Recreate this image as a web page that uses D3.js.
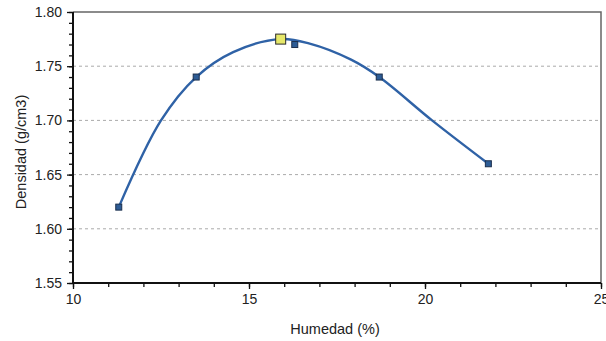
<!DOCTYPE html>
<html>
<head>
<meta charset="utf-8">
<script src="https://cdn.jsdelivr.net/npm/d3@7"></script>
<style>
  html, body { margin: 0; padding: 0; background: #fff; }
  svg { display: block; font-family: "Liberation Sans", Arial, sans-serif; }
</style>
</head>
<body>
<svg id="chart" width="606" height="341"></svg>
<script>
// Ensayo Proctor: humedad (%) vs densidad seca (g/cm3)
const humedad = [11.3, 13.5, 16.3, 18.7, 21.8];
const densidad = [1.62, 1.74, 1.77, 1.74, 1.66];

// Curva de compactación ajustada
const curvaHumedad = [11.3, 12.5, 13.5, 14.55, 15.9, 16.7, 17.9, 18.7, 20.2, 21.8];
const curvaDensidad = [1.62, 1.70, 1.74, 1.763, 1.775, 1.771, 1.756, 1.74, 1.70, 1.66];

// Óptimo: humedad óptima y densidad máxima
const optimoHumedad = [15.9];
const optimoDensidad = [1.775];

const xTicks = [10, 15, 20, 25];
const yTicks = [1.55, 1.60, 1.65, 1.70, 1.75, 1.80];
const yGrid = [1.60, 1.65, 1.70, 1.75];

const svg = d3.select("#chart");
const m = { left: 73, right: 5, top: 12, bottom: 58 };
const W = 606, H = 341;

const x = d3.scaleLinear().domain([10, 25]).range([m.left, W - m.right]);
const y = d3.scaleLinear().domain([1.55, 1.80]).range([H - m.bottom, m.top]);

const textColor = "#222";
const font = "Liberation Sans, Arial, sans-serif";

// Líneas de cuadrícula discontinuas
svg.append("g").selectAll("line").data(yGrid).join("line")
  .attr("x1", x(10)).attr("x2", x(25))
  .attr("y1", d => y(d)).attr("y2", d => y(d))
  .attr("stroke", "#aaa").attr("stroke-width", 1)
  .attr("stroke-dasharray", "3,3");

// Marco superior y derecho
svg.append("path")
  .attr("d", `M${x(10)},${y(1.80)}H${x(25)}V${y(1.55)}`)
  .attr("fill", "none").attr("stroke", "#666").attr("stroke-width", 1.5);

// Ejes: marcas menores y mayores
const xMinor = d3.range(10, 25.01, 1);
const yMinor = d3.range(0, 26).map(i => 1.55 + i * 0.01);

const gx = svg.append("g").attr("transform", `translate(0,${y(1.55)})`);
gx.call(d3.axisBottom(x).tickValues(xMinor).tickSize(4).tickFormat(""));
gx.call(g => g.select(".domain").remove());
const gxMajor = svg.append("g").attr("transform", `translate(0,${y(1.55)})`)
  .call(d3.axisBottom(x).tickValues(xTicks).tickSize(6).tickPadding(5).tickFormat(d3.format("d")));
gxMajor.select(".domain").remove();
gxMajor.selectAll("text").attr("font-size", 14).attr("fill", textColor).attr("font-family", font);

const gy = svg.append("g").attr("transform", `translate(${x(10)},0)`);
gy.call(d3.axisLeft(y).tickValues(yMinor).tickSize(4).tickFormat(""));
gy.call(g => g.select(".domain").remove());
const gyMajor = svg.append("g").attr("transform", `translate(${x(10)},0)`)
  .call(d3.axisLeft(y).tickValues(yTicks).tickSize(6).tickPadding(5).tickFormat(d3.format(".2f")));
gyMajor.select(".domain").remove();
gyMajor.selectAll("text").attr("font-size", 14).attr("fill", textColor).attr("font-family", font);

svg.selectAll(".tick line").attr("stroke", "#111").attr("stroke-width", 1.3);

// Líneas de eje gruesas
svg.append("path")
  .attr("d", `M${x(10)},${y(1.80)}V${y(1.55)}H${x(25)}`)
  .attr("fill", "none").attr("stroke", "#111").attr("stroke-width", 2);

// Curva de compactación
const curva = curvaHumedad.map((h, i) => [h, curvaDensidad[i]]);
svg.append("path")
  .datum(curva)
  .attr("d", d3.line().x(d => x(d[0])).y(d => y(d[1])).curve(d3.curveCatmullRom.alpha(0.5)))
  .attr("fill", "none").attr("stroke", "#2f62a6").attr("stroke-width", 2.4)
  .attr("stroke-linejoin", "round");

// Puntos del ensayo
const puntos = humedad.map((h, i) => [h, densidad[i]]);
const s = 6;
svg.append("g").selectAll("rect").data(puntos).join("rect")
  .attr("x", d => x(d[0]) - s / 2).attr("y", d => y(d[1]) - s / 2)
  .attr("width", s).attr("height", s)
  .attr("fill", "#2d5c95").attr("stroke", "#1b2f4d").attr("stroke-width", 1);

// Punto óptimo
const so = 10;
svg.append("g").selectAll("rect").data(optimoHumedad.map((h, i) => [h, optimoDensidad[i]])).join("rect")
  .attr("x", d => x(d[0]) - so / 2).attr("y", d => y(d[1]) - so / 2)
  .attr("width", so).attr("height", so)
  .attr("fill", "#e6e86a").attr("stroke", "#2a2a2a").attr("stroke-width", 1);

// Títulos de los ejes
svg.append("text")
  .attr("x", 335).attr("y", 334)
  .attr("text-anchor", "middle").attr("font-size", 14.5).attr("fill", textColor)
  .text("Humedad (%)");

svg.append("text")
  .attr("transform", `translate(26,152) rotate(-90)`)
  .attr("text-anchor", "middle").attr("font-size", 14.5).attr("fill", textColor)
  .text("Densidad (g/cm3)");
</script>
</body>
</html>
